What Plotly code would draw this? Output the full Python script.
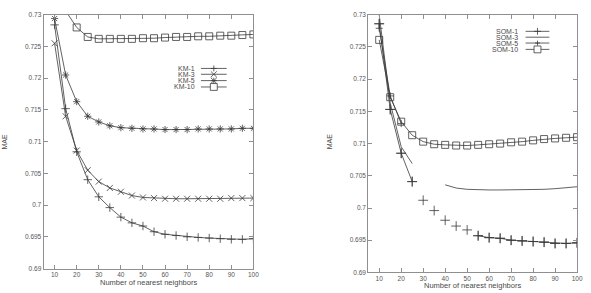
import plotly.graph_objects as go
from plotly.subplots import make_subplots

neighbors = [10, 15, 20, 25, 30, 35, 40, 45, 50, 55, 60, 65, 70, 75, 80, 85, 90, 95, 100]

km1 = [0.7284, 0.7152, 0.7084, 0.7040, 0.7013, 0.6996, 0.6981, 0.6972, 0.6967, 0.6958,
       0.6954, 0.6952, 0.6950, 0.6949, 0.6948, 0.6947, 0.6946, 0.6946, 0.6947]
km3 = [0.7255, 0.7140, 0.7086, 0.7055, 0.7037, 0.7027, 0.7021, 0.7015, 0.7012, 0.7011,
       0.7010, 0.7010, 0.7010, 0.7010, 0.7010, 0.7010, 0.7011, 0.7011, 0.7011]
km5 = [0.7294, 0.7205, 0.7163, 0.7140, 0.7131, 0.7125, 0.7122, 0.7121, 0.7120, 0.7120,
       0.7119, 0.7119, 0.7119, 0.7120, 0.7120, 0.7120, 0.7120, 0.7121, 0.7121]
km10 = [0.7400, 0.7306, 0.7280, 0.7265, 0.7262, 0.7262, 0.7262, 0.7262, 0.7263, 0.7263,
        0.7264, 0.7265, 0.7265, 0.7266, 0.7266, 0.7267, 0.7267, 0.7268, 0.7269]

som1 = [0.7286, 0.7153, 0.7085, 0.7041, 0.7012, 0.6996, 0.6981, 0.6972, 0.6966, 0.6957,
        0.6954, 0.6953, 0.6950, 0.6949, 0.6948, 0.6947, 0.6945, 0.6945, 0.6946]
# neighbour counts where the SOM-1 curve is drawn without its connecting line
som1_unjoined = [30, 35, 40, 45, 50]
som3 = [0.7300, 0.7163, 0.7095, 0.7069, None, None, 0.7036, 0.7031, 0.7029, 0.7028,
        0.7028, 0.7028, 0.7028, 0.7028, 0.7028, 0.7029, 0.7030, 0.7032, 0.7033]
som5 = [0.7279, 0.7174, 0.7131, None, None, None, None, None, None, None,
        None, None, None, None, None, None, None, None, None]
som10 = [0.7261, 0.7172, 0.7134, 0.7113, 0.7103, 0.7099, 0.7098, 0.7097, 0.7097, 0.7098,
         0.7099, 0.7100, 0.7102, 0.7103, 0.7105, 0.7107, 0.7108, 0.7109, 0.7110]

x_ticks = [10, 20, 30, 40, 50, 60, 70, 80, 90, 100]
y_ticks = [0.69, 0.695, 0.70, 0.705, 0.71, 0.715, 0.72, 0.725, 0.73]
x_title = "Number of nearest neighbors"
y_title = "MAE"
km_names = ["KM-1", "KM-3", "KM-5", "KM-10"]
som_names = ["SOM-1", "SOM-3", "SOM-5", "SOM-10"]

FONT = "Liberation Sans, Arial, sans-serif"
LC = "#3a3a3a"
AX = "#8f8f8f"
TXT = "#4a4a4a"
W, H = 591, 293

fig = make_subplots(rows=1, cols=2)


def add(col, y, symbol, msize, mode="lines+markers"):
    fig.add_trace(go.Scatter(
        x=neighbors, y=y, mode=mode, showlegend=False,
        line=dict(color=LC, width=0.8),
        marker=dict(symbol=symbol, size=msize, color=LC, line=dict(color=LC, width=0.8)),
        connectgaps=False, cliponaxis=True,
    ), row=1, col=col)


add(1, km1, "cross-thin-open", 6)
add(1, km3, "x-thin-open", 6)
add(1, km5, "asterisk-open", 6)
add(1, km10, "square-open", 7)

som1_line = [None if n in som1_unjoined else v for n, v in zip(neighbors, som1)]
add(2, som1_line, "cross-thin-open", 7)
add(2, som1, "cross-thin-open", 7, mode="markers")
add(2, som3, "circle", 1, mode="lines")
add(2, som5, "cross-thin-open", 5)
add(2, som10, "square-open", 7)

axis_common = dict(
    showline=True, linecolor=AX, linewidth=1, mirror="ticks",
    ticks="inside", ticklen=4, tickwidth=1, tickcolor=AX,
    showgrid=False, zeroline=False,
    tickfont=dict(family=FONT, size=6.5, color="#555"),
)
fig.update_xaxes(range=[5, 100], tickvals=x_ticks, **axis_common)
fig.update_yaxes(range=[0.69, 0.73], tickvals=y_ticks, **axis_common)

fig.update_layout(
    width=W, height=H,
    margin=dict(l=0, r=0, t=0, b=0),
    paper_bgcolor="white", plot_bgcolor="white",
    font=dict(family=FONT, size=7, color=TXT),
    xaxis=dict(domain=[44 / W, 256 / W]),
    yaxis=dict(domain=[1 - 271 / H, 1 - 11 / H]),
    xaxis2=dict(domain=[372 / W, 583 / W]),
    yaxis2=dict(domain=[1 - 275 / H, 1 - 11 / H]),
    showlegend=False,
)

# axis titles
for xc, yc in (((44 + 256) / 2, 285), ((372 + 583) / 2, 288.5)):
    fig.add_annotation(xref="paper", yref="paper", x=xc / W, y=1 - yc / H,
                       xanchor="center", yanchor="middle", text=x_title, showarrow=False,
                       font=dict(family=FONT, size=7.5, color=TXT))
for xp in (5, 333):
    fig.add_annotation(xref="paper", yref="paper", x=xp / W, y=1 - 141 / H,
                       xanchor="center", yanchor="middle", text=y_title,
                       textangle=-90, showarrow=False,
                       font=dict(family=FONT, size=7, color=TXT))


# compact gnuplot-style keys (text on the left, sample on the right)
def seg(x0, y0, x1, y1):
    fig.add_shape(type="line", xref="paper", yref="paper",
                  x0=x0 / W, y0=1 - y0 / H, x1=x1 / W, y1=1 - y1 / H,
                  line=dict(color=LC, width=0.8))


def glyph(kind, cx, cy, r):
    if kind in ("plus", "star"):
        seg(cx - r, cy, cx + r, cy)
        seg(cx, cy - r, cx, cy + r)
    if kind in ("x", "star"):
        seg(cx - r, cy - r, cx + r, cy + r)
        seg(cx - r, cy + r, cx + r, cy - r)
    if kind == "square":
        fig.add_shape(type="rect", xref="paper", yref="paper",
                      x0=(cx - r) / W, x1=(cx + r) / W, y0=1 - (cy - r) / H, y1=1 - (cy + r) / H,
                      line=dict(color=LC, width=0.8), fillcolor="white")


def key(names, kinds, sizes, text_right, line_x0, line_x1, rows_y):
    for name, kind, r, yy in zip(names, kinds, sizes, rows_y):
        fig.add_annotation(xref="paper", yref="paper", x=text_right / W, y=1 - yy / H,
                           xanchor="right", yanchor="middle", text=name, showarrow=False,
                           font=dict(family=FONT, size=7, color=TXT))
        seg(line_x0, yy, line_x1, yy)
        if kind:
            glyph(kind, (line_x0 + line_x1) / 2, yy, r)


key(km_names, ["plus", "x", "star", "square"], [3, 3, 3, 3.5],
    199, 203, 229, [66, 72, 78.5, 85])
key(som_names, ["plus", None, "plus", "square"], [3.5, 0, 2.5, 3.5],
    525, 531, 555, [28, 34, 40, 46.5])

fig.write_html("out.html")
